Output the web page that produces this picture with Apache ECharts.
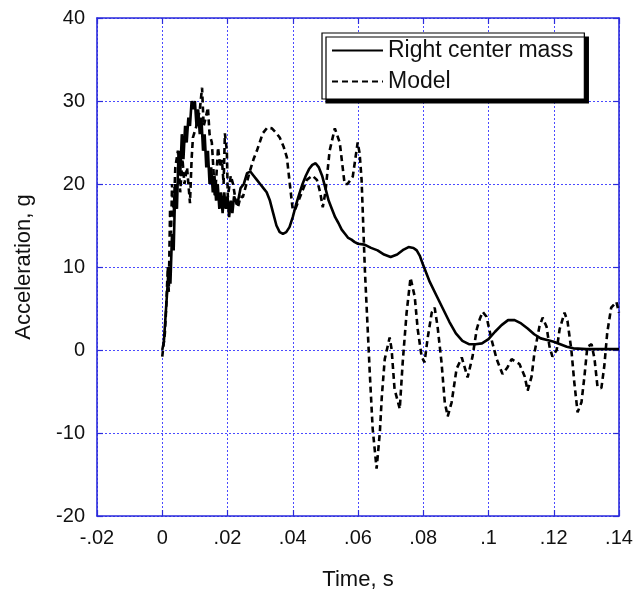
<!DOCTYPE html>
<html>
<head>
<meta charset="utf-8">
<script src="https://cdn.jsdelivr.net/npm/echarts@6/dist/echarts.min.js"></script>
<style>
html,body{margin:0;padding:0;background:#fff;}
#chart{width:636px;height:600px;}
</style>
</head>
<body>
<div id="chart"></div>
<script>
// ---- Data ----
var seriesNames = ['Right center mass', 'Model'];
var xTickValues = [-0.02, 0, 0.02, 0.04, 0.06, 0.08, 0.1, 0.12, 0.14];
var yTickValues = [-20, -10, 0, 10, 20, 30, 40];

var timeSolid = [0,0.0005,0.001,0.0015,0.002,0.0025,0.003,0.0035,0.004,0.0045,0.005,0.0055,0.006,0.0065,0.007,0.0075,0.008,0.0085,0.009,0.0095,0.010,0.0105,0.011,0.0115,0.012,0.0125,0.013,0.0135,0.014,0.0145,0.015,0.0155,0.016,0.0165,0.017,0.0175,0.018,0.0185,0.019,0.0195,0.020,0.0205,0.021,0.0215,0.022,0.023,0.024,0.025,0.026,0.027,0.028,0.029,0.030,0.031,0.032,0.033,0.034,0.035,0.036,0.037,0.038,0.039,0.040,0.041,0.042,0.043,0.044,0.045,0.046,0.047,0.048,0.049,0.050,0.051,0.052,0.053,0.054,0.055,0.056,0.057,0.058,0.059,0.060,0.062,0.064,0.066,0.068,0.070,0.072,0.074,0.0755,0.077,0.078,0.079,0.080,0.082,0.084,0.086,0.088,0.090,0.092,0.094,0.096,0.098,0.100,0.102,0.104,0.106,0.108,0.110,0.112,0.114,0.116,0.118,0.120,0.122,0.124,0.126,0.130,0.135,0.140];
var accelSolid = [0,1,4,7,10,8,14,12,20,17,24,21,26,23,27,25,28,27,30,29,30,27,29,26,28,24,26,22,24,20,22,19,21,18,20,17,19,16.5,19,17,18.5,16,18,16.5,18.5,17.5,19.5,20,21.3,21.5,21,20.5,20,19.5,19,18,16.5,15,14.2,14,14.2,14.8,16,17.5,18.8,20,21,21.8,22.3,22.5,22,21,19.5,18,17,16,15.3,14.5,14,13.5,13.3,13,12.8,12.7,12.3,12,11.5,11.2,11.5,12.1,12.4,12.3,12,11.3,10.2,8.2,6.6,5,3.4,2,1.1,0.7,0.7,0.8,1.3,2.2,3,3.6,3.6,3.2,2.6,1.9,1.4,1.2,1,0.7,0.4,0.2,0.1,0.1,0.1];

var timeModel = [0,0.0005,0.0008,0.0012,0.0017,0.002,0.0024,0.0027,0.003,0.0035,0.004,0.0048,0.0055,0.0062,0.0068,0.0076,0.0085,0.009,0.0094,0.0105,0.0115,0.0122,0.0127,0.0131,0.014,0.0145,0.0152,0.0158,0.0161,0.0166,0.0171,0.0178,0.0183,0.0188,0.0192,0.0198,0.0201,0.021,0.0217,0.0225,0.0232,0.024,0.0247,0.0258,0.0269,0.028,0.029,0.0308,0.0322,0.0336,0.0348,0.036,0.0372,0.0382,0.0391,0.040,0.0408,0.0415,0.0428,0.0443,0.046,0.0474,0.0484,0.0492,0.050,0.0513,0.0529,0.0544,0.0559,0.0568,0.0584,0.0599,0.0605,0.0611,0.0621,0.0636,0.0645,0.0657,0.0667,0.0673,0.0682,0.0697,0.0703,0.0712,0.0728,0.0737,0.0749,0.0761,0.0774,0.0783,0.0795,0.0804,0.0813,0.0826,0.0835,0.0844,0.0856,0.0866,0.0875,0.0887,0.0902,0.0918,0.0936,0.0951,0.0964,0.0973,0.0982,0.0994,0.1009,0.1025,0.1043,0.1058,0.1071,0.1095,0.1111,0.112,0.1132,0.1141,0.1156,0.1166,0.1178,0.1187,0.1196,0.1209,0.1218,0.1233,0.1242,0.1254,0.1263,0.1273,0.1285,0.1294,0.1303,0.1316,0.1325,0.1334,0.1346,0.1355,0.1364,0.1376,0.1392,0.140];
var accelModel = [-0.8,-1,2,5,10,7,17,14,20,16,22,24,19,23,20,22,17.7,23,25.6,27,28.9,31.6,27,27.6,29.2,26,25,21,18.4,21,24.4,22,22.9,20,26.1,24,18.4,21,20,18,17.2,18.5,18.4,20,21.6,23,24,26.1,26.8,26.7,26.2,25.6,24.5,23.2,20,16.9,17,17.7,19,20.5,21,20.5,19,17.2,19,24,26.7,25,20,20,20.9,25,23.7,20.5,9.7,-2.7,-9.5,-14.3,-9.9,-5.6,-1.1,1.5,0.1,-4.7,-7.1,-1.5,4.5,8.7,6.4,2.5,-0.8,-1.5,1.3,4.5,5.1,2.8,-1.5,-6.3,-8,-6.3,-2.3,-0.9,-3.3,-0.8,2.5,3.7,4.6,4,1.3,-1.1,-2.9,-2.1,-1.1,-1.7,-3.2,-4.9,-3.2,-0.3,2.8,3.9,2.8,0.4,-0.8,0,2.5,4.5,3.5,0,-3.9,-7.5,-6.3,-3.2,0.4,0.7,-1.1,-4.4,-4.6,-1.9,2.1,5.1,5.8,4.5];

function pairs(xs, ys) { return xs.map(function (x, i) { return [x, ys[i]]; }); }

var BLUE = '#2b2bdc';
var FONT = 'Liberation Sans, Arial, Helvetica, sans-serif';

function xFmt(v) {
  var s = String(parseFloat(v.toFixed(3)));
  return s.replace(/^(-?)0\./, '$1.');
}

var chart = echarts.init(document.getElementById('chart'), null, {renderer: 'canvas'});

function axisCommon(extra) {
  var base = {
    type: 'value',
    axisLine: {show: true, onZero: false, lineStyle: {color: BLUE, width: 1.6}},
    axisTick: {show: true, inside: true, length: 6, lineStyle: {color: BLUE, width: 1.2}},
    minorTick: {show: false},
    splitLine: {show: false}
  };
  return Object.assign(base, extra);
}

chart.setOption({
  animation: false,
  backgroundColor: '#ffffff',
  grid: {left: 97, right: 17, top: 18, bottom: 84, containLabel: false},
  legend: {
    data: seriesNames,
    orient: 'vertical',
    left: 322,
    top: 33,
    padding: [6, 11, 6, 9],
    itemGap: 8,
    itemWidth: 51,
    itemHeight: 14,
    itemStyle: {opacity: 0},
    backgroundColor: '#ffffff',
    borderColor: '#000',
    borderWidth: 1.2,
    borderRadius: 0,
    shadowColor: '#000',
    shadowOffsetX: 4,
    shadowOffsetY: 4,
    shadowBlur: 0,
    textStyle: {fontFamily: FONT, fontSize: 23, color: '#111', padding: [0, 0, 0, 0]},
    inactiveColor: '#000',
    selectedMode: false
  },
  xAxis: [
    axisCommon({
      min: xTickValues[0], max: xTickValues[xTickValues.length - 1], interval: 0.02,
      position: 'bottom',
      splitLine: {show: true, lineStyle: {color: '#4a4aff', type: [2, 2], width: 1}},
      axisLabel: {formatter: xFmt, fontFamily: FONT, fontSize: 20, color: '#111', margin: 12},
      name: 'Time, s', nameLocation: 'middle', nameGap: 53,
      nameTextStyle: {fontFamily: FONT, fontSize: 22, color: '#111'}
    }),
    axisCommon({
      min: xTickValues[0], max: xTickValues[xTickValues.length - 1], interval: 0.02,
      position: 'top', axisLabel: {show: false}
    })
  ],
  yAxis: [
    axisCommon({
      min: yTickValues[0], max: yTickValues[yTickValues.length - 1], interval: 10,
      position: 'left',
      splitLine: {show: true, lineStyle: {color: '#4a4aff', type: [2, 2], width: 1}},
      axisLabel: {fontFamily: FONT, fontSize: 20, color: '#111', margin: 12},
      name: 'Acceleration, g', nameLocation: 'middle', nameGap: 62, nameRotate: 90,
      nameTextStyle: {fontFamily: FONT, fontSize: 22, color: '#111'}
    }),
    axisCommon({
      min: yTickValues[0], max: yTickValues[yTickValues.length - 1], interval: 10,
      position: 'right', axisLabel: {show: false}
    })
  ],
  series: [
    {
      name: seriesNames[0], type: 'line', showSymbol: false, symbol: 'none',
      data: pairs(timeSolid, accelSolid),
      lineStyle: {color: '#000', width: 2.6, type: 'solid'},
      itemStyle: {color: '#000'},
      z: 3
    },
    {
      name: seriesNames[1], type: 'line', showSymbol: false, symbol: 'none',
      data: pairs(timeModel, accelModel),
      lineStyle: {color: '#000', width: 2.6, type: [6, 4]},
      itemStyle: {color: '#000'},
      z: 2
    }
  ]
});
</script>
</body>
</html>
